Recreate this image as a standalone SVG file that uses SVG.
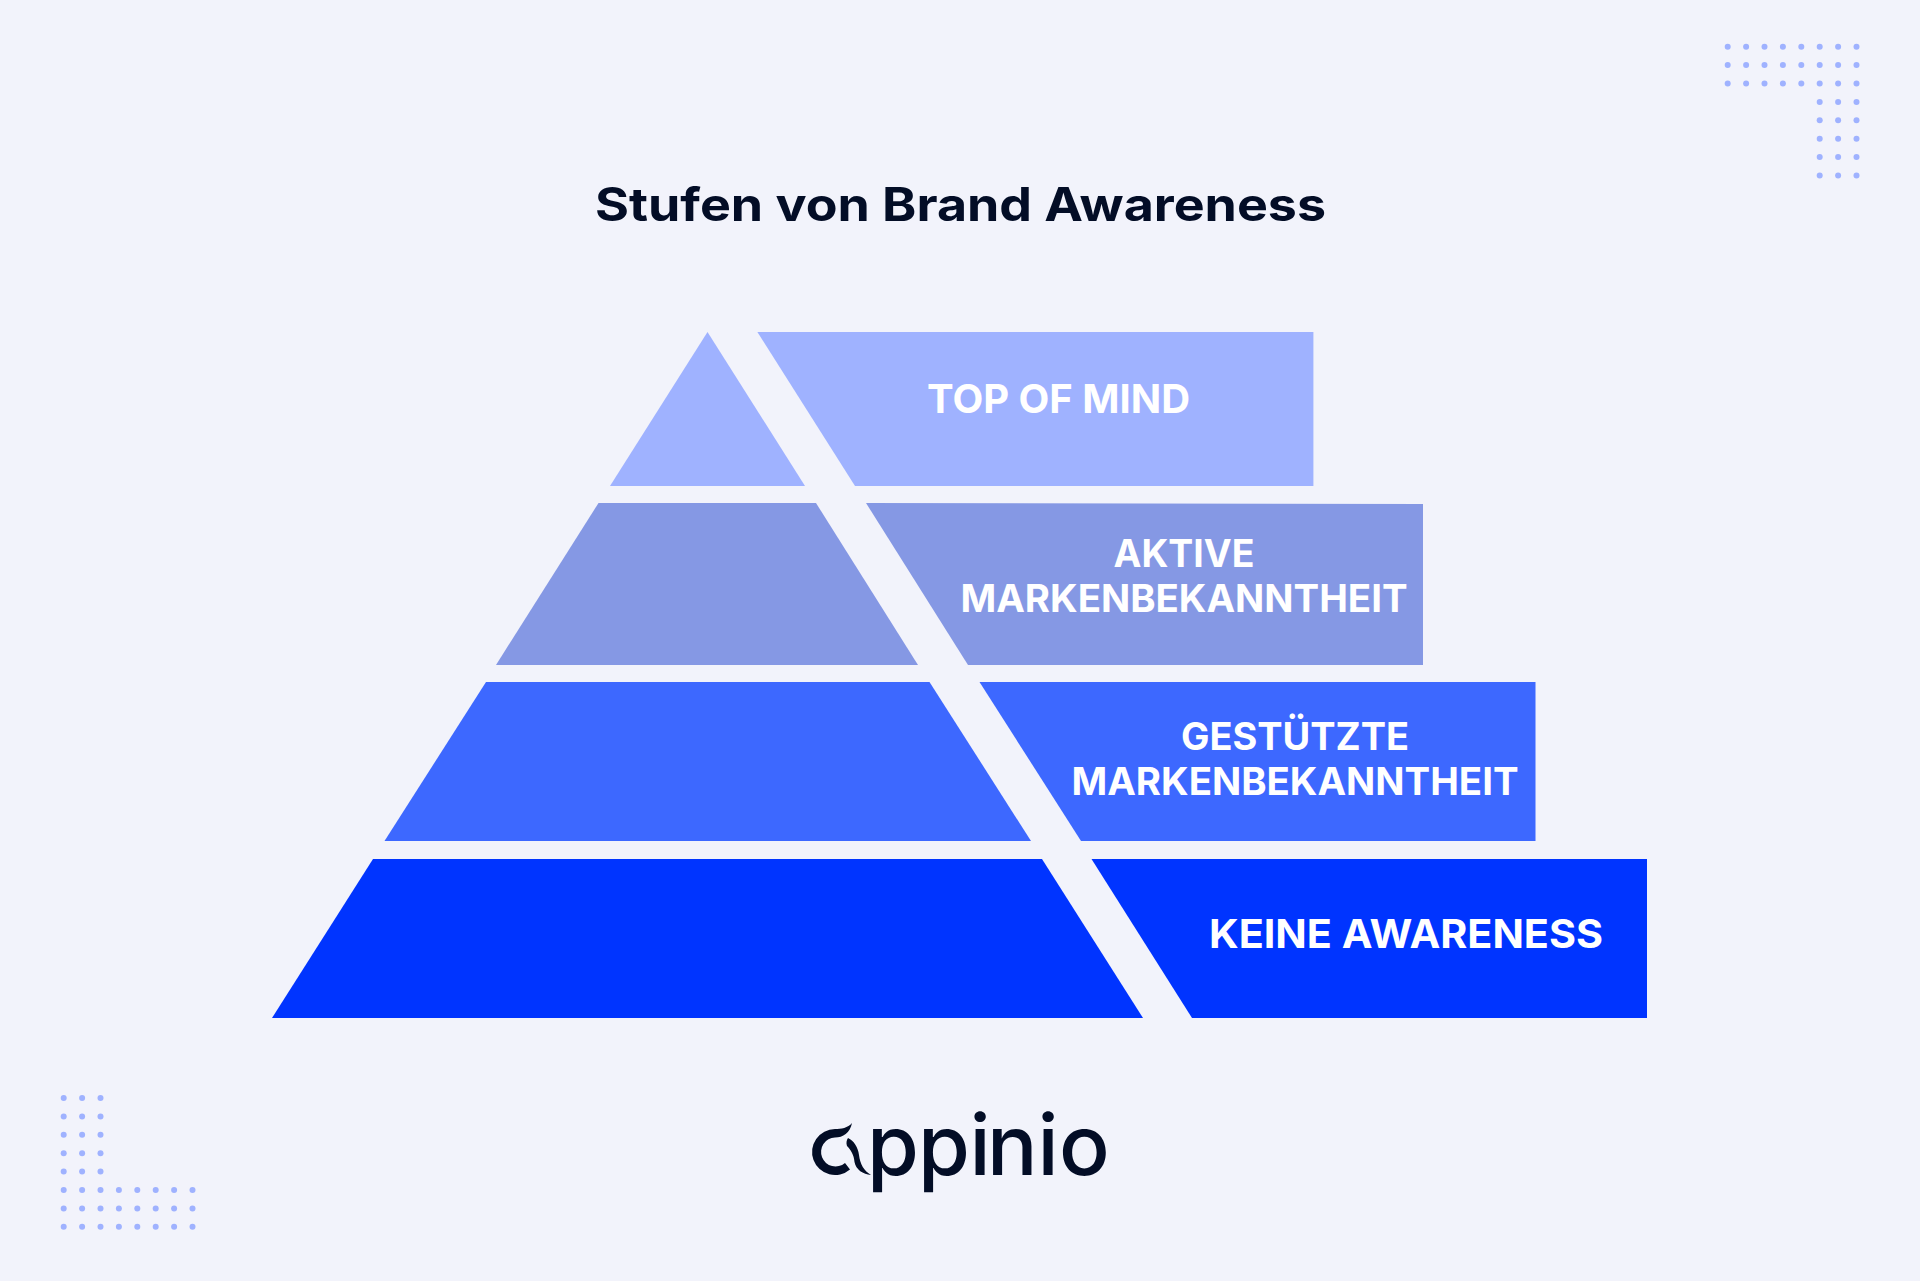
<svg xmlns="http://www.w3.org/2000/svg" width="1920" height="1281" viewBox="0 0 1920 1281">
<style>
.lbl{font-family:Inter,"Liberation Sans",sans-serif;font-weight:700;font-size:38px;fill:#fff;text-anchor:middle}
.big{font-size:40px}
.title{font-family:Inter,"Liberation Sans",sans-serif;font-weight:700;font-size:46px;fill:#030d26}
.logo{font-family:Inter,"Liberation Sans",sans-serif;font-weight:500;font-size:84px;fill:#030d26}
.dot{fill:#9fb2ff}
.mark{fill:#030d26}
.l1{fill:#9fb2ff}.l2{fill:#8598e4}.l3{fill:#3d68ff}.l4{fill:#0034ff}
</style>
<defs>
<circle id="d" class="dot" r="3"/>
<g id="row8"><use href="#d" x="0"/><use href="#d" x="18.4"/><use href="#d" x="36.8"/><use href="#d" x="55.2"/><use href="#d" x="73.6"/><use href="#d" x="92"/><use href="#d" x="110.4"/><use href="#d" x="128.8"/></g>
<g id="row3"><use href="#d" x="0"/><use href="#d" x="18.4"/><use href="#d" x="36.8"/></g>
</defs>
<rect width="1920" height="1281" fill="#f2f3fb"/>
<text class="title" x="595" y="221" textLength="731" lengthAdjust="spacingAndGlyphs">Stufen von Brand Awareness</text>
<g id="level-1"><polygon class="l1" points="707.500,332 805,486 610,486"/><polygon class="l1" points="757.400,332 1313.400,332 1313.400,486 855,486"/><text class="lbl big" x="1058.500" y="413" textLength="263" lengthAdjust="spacingAndGlyphs">TOP OF MIND</text></g>
<g id="level-2"><polygon class="l2" points="598.500,503 816,503 918,665 496,665"/><polygon class="l2" points="866,503 1423,504 1423,665 968,665"/><text class="lbl" x="1184" y="567" textLength="141" lengthAdjust="spacingAndGlyphs">AKTIVE</text><text class="lbl" x="1184" y="612" textLength="447" lengthAdjust="spacingAndGlyphs">MARKENBEKANNTHEIT</text></g>
<g id="level-3"><polygon class="l3" points="486,682 929.500,682 1031,841 384.500,841"/><polygon class="l3" points="979.500,682 1535.500,682 1535.500,841 1081,841"/><text class="lbl" x="1295" y="750" textLength="228" lengthAdjust="spacingAndGlyphs">GESTÜTZTE</text><text class="lbl" x="1295" y="795" textLength="447" lengthAdjust="spacingAndGlyphs">MARKENBEKANNTHEIT</text></g>
<g id="level-4"><polygon class="l4" points="373,859 1042,859 1143,1018 272,1018"/><polygon class="l4" points="1091.500,859 1647,859 1647,1018 1192,1018"/><text class="lbl big" x="1406" y="948" textLength="394" lengthAdjust="spacingAndGlyphs">KEINE AWARENESS</text></g>
<g id="dots-top">
<use href="#row8" x="1727.700" y="46.700"/><use href="#row8" x="1727.700" y="65.100"/><use href="#row8" x="1727.700" y="83.500"/>
<use href="#row3" x="1819.700" y="101.900"/><use href="#row3" x="1819.700" y="120.300"/><use href="#row3" x="1819.700" y="138.700"/><use href="#row3" x="1819.700" y="157.100"/><use href="#row3" x="1819.700" y="175.500"/>
</g>
<g id="dots-bottom">
<use href="#row3" x="63.700" y="1098"/><use href="#row3" x="63.700" y="1116.400"/><use href="#row3" x="63.700" y="1134.800"/><use href="#row3" x="63.700" y="1153.200"/><use href="#row3" x="63.700" y="1171.600"/>
<use href="#row8" x="63.700" y="1190"/><use href="#row8" x="63.700" y="1208.400"/><use href="#row8" x="63.700" y="1226.800"/>
</g>
<g id="logo">
<path class="mark" d="M852,1123 C848,1128 841,1129 835,1129 A23,23 0 1 0 850,1169.500 L845,1163 A14.500,14.500 0 1 1 835,1137.500 C843,1137.500 850,1133 852,1123 Z"/>
<path class="mark" d="M848,1138 C854,1141 858,1147 859,1155 C860,1164 864,1171 871,1175 C863,1174 856,1170 854.500,1162 C854,1155 851,1150 847,1146 C846,1143 846.500,1140 848,1138 Z"/>
<text class="logo" x="867 918 969.500 987 1037.500 1059" y="1175">ppinio</text>
</g>
</svg>
